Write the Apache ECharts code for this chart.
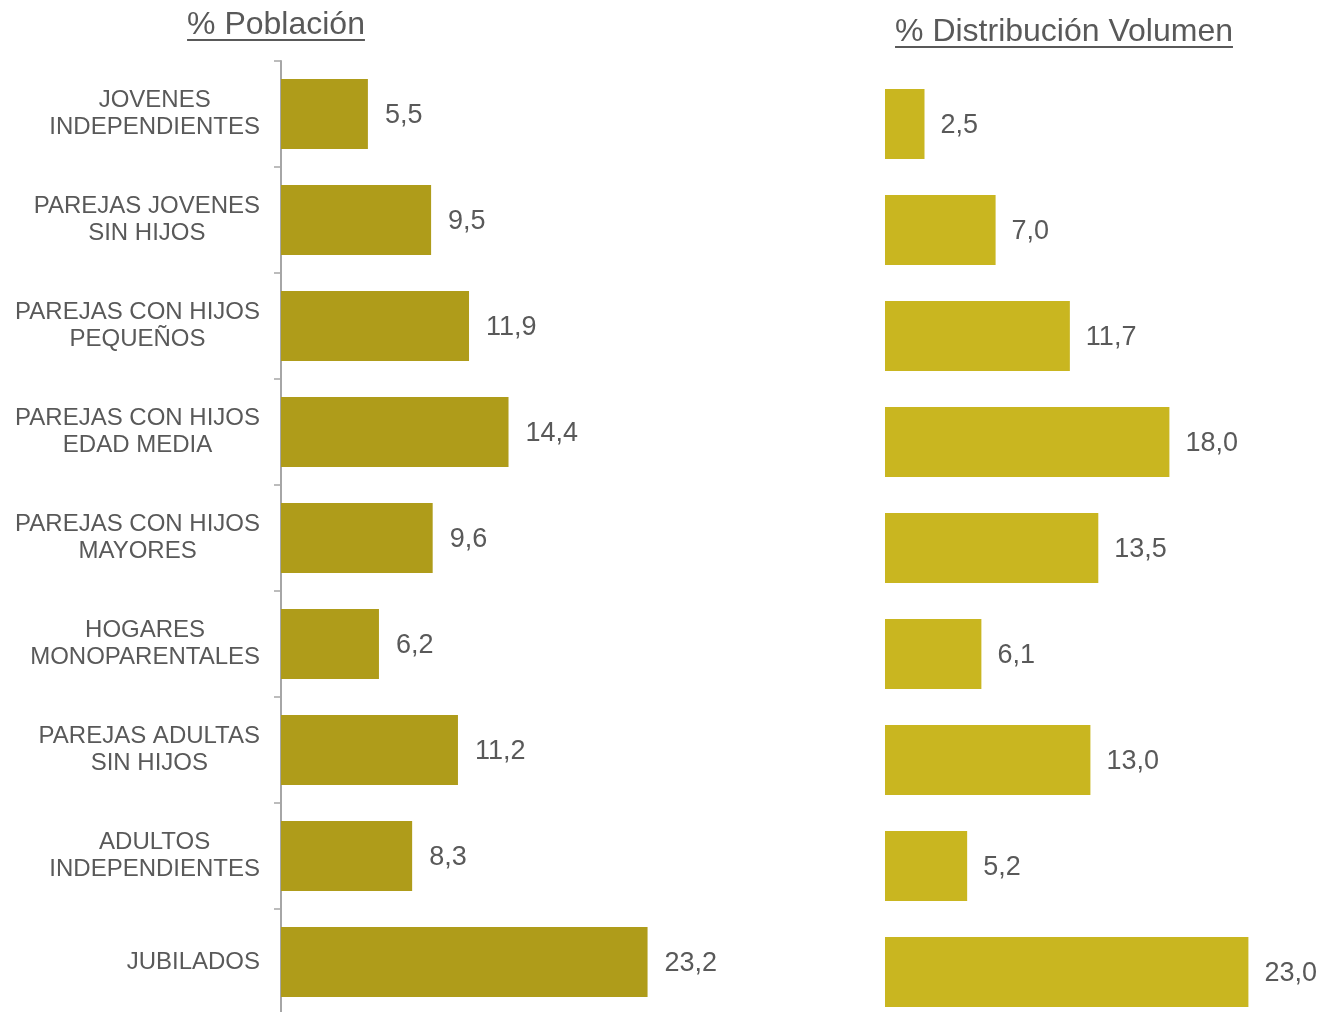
<!DOCTYPE html>
<html>
<head>
<meta charset="utf-8">
<script src="https://cdn.jsdelivr.net/npm/echarts@6/dist/echarts.min.js"></script>
<style>
  html, body { margin: 0; padding: 0; background: #fff; }
  #main { width: 1321px; height: 1012px; }
</style>
</head>
<body>
<div id="main"></div>
<script>
var categories = [
  'JOVENES\nINDEPENDIENTES',
  'PAREJAS JOVENES\nSIN HIJOS',
  'PAREJAS CON HIJOS\nPEQUEÑOS',
  'PAREJAS CON HIJOS\nEDAD MEDIA',
  'PAREJAS CON HIJOS\nMAYORES',
  'HOGARES\nMONOPARENTALES',
  'PAREJAS ADULTAS\nSIN HIJOS',
  'ADULTOS\nINDEPENDIENTES',
  'JUBILADOS'
];
var poblacion = [5.5, 9.5, 11.9, 14.4, 9.6, 6.2, 11.2, 8.3, 23.2];
var volumen = [2.5, 7.0, 11.7, 18.0, 13.5, 6.1, 13.0, 5.2, 23.0];
var titles = ['% Población', '% Distribución Volumen'];

var FONT = '"Liberation Sans", Arial, sans-serif';
var TXT = '#595959';

function textWidth(str, font) {
  var c = document.createElement('canvas').getContext('2d');
  c.font = font;
  return c.measureText(str).width;
}

// titulo subrayado (texto + linea)
function underlinedTitle(str, cx, y) {
  var font = '32px ' + FONT;
  var w = textWidth(str, font);
  return [
    { type: 'text', left: cx - w / 2, top: y,
      style: { text: str, fill: TXT, font: font } },
    { type: 'rect', shape: { x: cx - w / 2, y: y + 30, width: w, height: 2 },
      style: { fill: TXT } }
  ];
}

function fmt(p) {
  return p.value.toFixed(1).replace('.', ',');
}

// cada linea centrada dentro del bloque, bloque alineado a la derecha
function catLabel(v) {
  return v.split('\n').map(function (s) { return '{c|' + s + '}'; }).join('\n');
}

var chart = echarts.init(document.getElementById('main'));
var option = {
  backgroundColor: '#fff',
  animation: false,
  textStyle: { fontFamily: FONT },
  graphic: underlinedTitle(titles[0], 276, 9).concat(underlinedTitle(titles[1], 1064, 16)),
  grid: [
    { left: 281, top: 61, width: 395, height: 954, outerBoundsMode: 'none', containLabel: false },
    { left: 885, top: 71, width: 395, height: 954, outerBoundsMode: 'none', containLabel: false }
  ],
  xAxis: [
    { gridIndex: 0, type: 'value', min: 0, max: 25, show: false },
    { gridIndex: 1, type: 'value', min: 0, max: 25, show: false }
  ],
  yAxis: [
    {
      gridIndex: 0, type: 'category', inverse: true, data: categories,
      axisLine: { show: true, lineStyle: { color: '#a6a6a6', width: 2 } },
      axisTick: { show: true, length: 7, lineStyle: { color: '#a6a6a6', width: 1.5 } },
      axisLabel: {
        color: TXT, fontSize: 24, lineHeight: 27, margin: 21, fontFamily: FONT, align: 'right',
        formatter: catLabel,
        rich: { c: { align: 'center', color: TXT, fontSize: 24, lineHeight: 27, fontFamily: FONT } }
      }
    },
    {
      gridIndex: 1, type: 'category', inverse: true, data: categories,
      axisLine: { show: false }, axisTick: { show: false }, axisLabel: { show: false }
    }
  ],
  series: [
    {
      type: 'bar', xAxisIndex: 0, yAxisIndex: 0, data: poblacion, barWidth: 70,
      itemStyle: { color: '#af9c1a' },
      label: { show: true, position: 'right', distance: 17, offset: [0, 2], color: TXT, fontSize: 27, fontFamily: FONT, formatter: fmt }
    },
    {
      type: 'bar', xAxisIndex: 1, yAxisIndex: 1, data: volumen, barWidth: 70,
      itemStyle: { color: '#c9b620' },
      label: { show: true, position: 'right', distance: 16, offset: [0, 2], color: TXT, fontSize: 27, fontFamily: FONT, formatter: fmt }
    }
  ]
};
chart.setOption(option);
</script>
</body>
</html>
